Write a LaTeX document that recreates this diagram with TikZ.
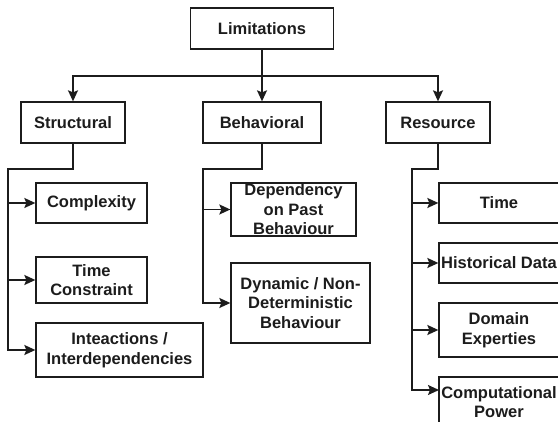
\documentclass[tikz,border=0pt]{standalone}
\usepackage{fontspec}
\setmainfont{Liberation Sans}
\usetikzlibrary{arrows.meta}
\definecolor{ink}{HTML}{1C1C1C}
\begin{document}
\begin{tikzpicture}[x=1pt,y=-1pt,
  box/.style={draw=ink,line width=1.3pt,rectangle,inner sep=1pt,align=center,text=ink,
    font=\fontsize{16.5}{19.5}\selectfont\bfseries},
  txt/.style={inner sep=0pt,align=center,text=ink,font=\fontsize{16.5}{19.5}\selectfont\bfseries},
  conn/.style={draw=ink,line width=1.5pt},
  arr/.style={conn,-{Stealth[length=11pt,width=10pt,inset=2pt]}}]
\useasboundingbox (0,0) rectangle (558,422);
\clip (0,0) rectangle (558,422);
\node[box,minimum width=143pt,minimum height=41pt] (lim) at (262,28.5) {Limitations};
\node[box,minimum width=104pt,minimum height=41pt] (str) at (73,122.5) {Structural};
\node[box,minimum width=118pt,minimum height=41pt] (beh) at (262,122.5) {Behavioral};
\node[box,minimum width=104pt,minimum height=41pt] (res) at (438,122.5) {Resource};
% structural children
\node[box,minimum width=111pt,minimum height=40pt] (cpx) at (91.5,203) {Complexity};
\node[box,minimum width=111pt,minimum height=46pt] (tc) at (91.5,280) {Time\\Constraint};
\node[box,minimum width=167pt,minimum height=54pt] (int) at (119.5,350) {Inteactions /\\Interdependencies};
% behavioral children
\node[draw=ink,line width=1.3pt,minimum width=125pt,minimum height=53pt,inner sep=0pt] (dep) at (293.5,209.5) {};
\node[txt] (deptxt) at (dep.center) {Dependency\\on Past\\Behaviour};
\node[box,minimum width=139pt,minimum height=80pt] (dyn) at (300.5,303) {Dynamic / Non-\\Deterministic\\Behaviour};
% resource children
\node[box,minimum width=120pt,minimum height=40pt] (time) at (499,203) {Time};
\node[box,minimum width=120pt,minimum height=40pt] (hist) at (499,263) {Historical Data};
\node[box,minimum width=120pt,minimum height=54pt] (dom) at (499,330) {Domain\\Experties};
\node[box,minimum width=120pt,minimum height=50pt] (comp) at (499,402) {Computational\\Power};
% top connectors
\coordinate (hbar) at (262,76);
\draw[arr] (lim.south) -- (beh.north);
\draw[arr] (hbar) -| (str.north);
\draw[arr] (hbar) -| (res.north);
% structural bus
\coordinate (sbus) at (8,169);
\draw[arr] (str.south) |- (sbus) |- (int.west);
\draw[arr] (sbus |- cpx.west) -- (cpx.west);
\draw[arr] (sbus |- tc.west) -- (tc.west);
% behavioral bus
\coordinate (bbus) at (203,169);
\draw[arr] (beh.south) |- (bbus) |- (dyn.west);
\draw[arr] (bbus |- dep.west) -- (dep.west);
% resource bus
\coordinate (rbus) at (412,169);
\draw[arr] (res.south) |- (rbus) |- (412,390) -- (439,390);
\draw[arr] (rbus |- time.west) -- (time.west);
\draw[arr] (rbus |- hist.west) -- (hist.west);
\draw[arr] (rbus |- dom.west) -- (dom.west);
\end{tikzpicture}
\end{document}
